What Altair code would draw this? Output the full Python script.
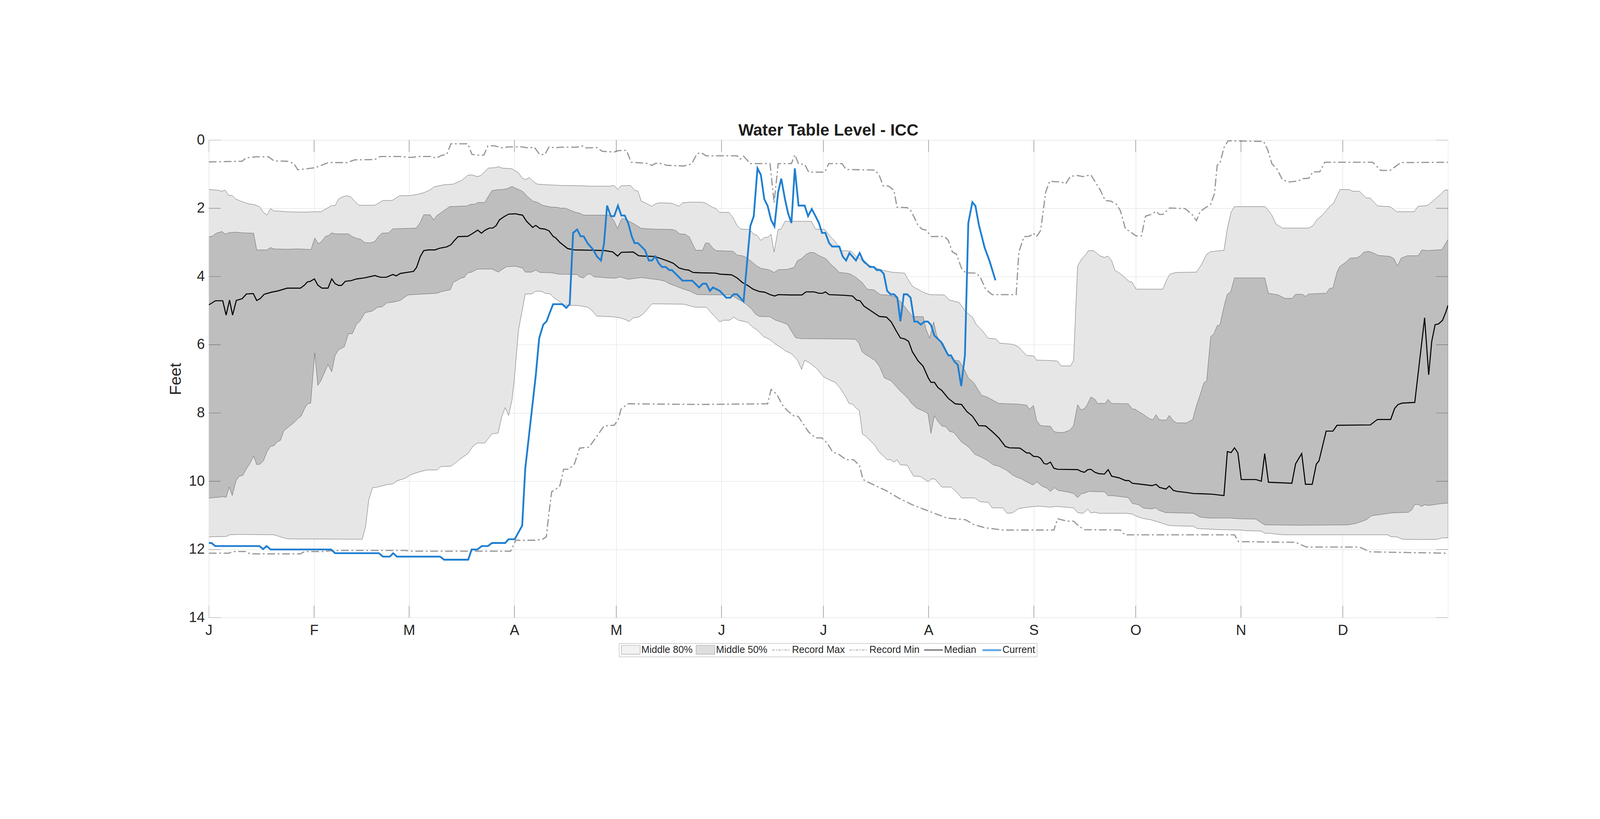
import altair as alt
import pandas as pd

FONT = "Liberation Sans"
TEXT = "#262626"
LIGHT_BAND = "#e6e6e6"
DARK_BAND = "#bebebe"
EDGE = "#5f5f5f"
RECORD = "#979797"
MEDIAN = "#000000"
CURRENT = "#1f7fd1"
DASH = [26, 9, 6, 9]

MONTH_STARTS = [0, 31, 59, 90, 120, 151, 181, 212, 243, 273, 304, 334]
MONTH_LABELS = ["J", "F", "M", "A", "M", "J", "J", "A", "S", "O", "N", "D"]
YEAR_END = 365
FEET_TICKS = [0, 2, 4, 6, 8, 10, 12, 14]

LEGEND_NAMES = ["Middle 80%", "Middle 50%", "Record Max", "Record Min", "Median", "Current"]

# upper edge of the middle 80% band (10th percentile depth)
P10_DAY = [0, 2.7, 3.7, 4.8, 5.9, 6.8, 8, 9.4, 11.7, 13.3, 14.9, 16, 17.1, 18.2, 19.2, 20.7, 22.7, 26.6, 29, 31.3,
           33, 34.8, 36.2, 37.2, 38.2, 39.3, 40.6, 41.9, 42.9, 44.2, 48.9, 51.3, 54, 56.2, 59.1, 61.5, 63.4, 65,
           66.4, 69.3, 72, 74.5, 76.3, 77.5, 79.1, 80.1, 81.3, 82.4, 84.2, 85.4, 86.3, 89.3, 91.2, 92.4, 93.3, 94.4,
           95.4, 96.7, 99.5, 104.1, 110.4, 111.6, 118.2, 119.4, 120.4, 121.4, 124.2, 125.4, 126.4, 127.4, 128.5,
           130.5, 131.7, 132.8, 136.4, 138.5, 139.5, 141.5, 145.4, 146.5, 148.5, 149.3, 150.5, 153.2, 154.4, 155.6,
           156.7, 159.3, 160.4, 161.4, 162.6, 163.8, 164.6, 165.6, 166.5, 167.7, 168.5, 169.7, 177.5, 178.7, 181.4,
           183, 184.1, 185.3, 186.1, 187.3, 189.2, 190, 190.8, 192, 193, 193.9, 196.1, 198.2, 200.2, 201, 204.9,
           206.1, 207.2, 208, 210.4, 212.3, 216.6, 218.2, 221, 222.9, 224.9, 226, 227.6, 229.6, 231.9, 232.9, 237,
           238.6, 240.8, 243, 243.8, 247.7, 250, 251, 253.8, 254.7, 255.9, 257.1, 258, 259.1, 260.6, 262.4, 263.8,
           264.8, 265.9, 266.9, 268.1, 269.6, 271, 272, 273.1, 281, 282.2, 283.1, 284.9, 290.9, 292.3, 293.9, 295.1,
           299, 300, 301.1, 302.1, 311.1, 312.3, 313.1, 314.3, 316.2, 324, 325.2, 326.4, 328, 330.3, 331.3, 332.3,
           333.2, 335.8, 337, 338.9, 340.9, 342.1, 344.2, 347.9, 349.9, 355, 356.2, 358.9, 360.5, 362.8, 364, 365]
P10_FT = [1.45, 1.47, 1.50, 1.47, 1.63, 1.62, 1.73, 1.79, 1.87, 1.89, 1.95, 2.11, 2.20, 2.01, 2.08, 2.08, 2.10, 2.11,
          2.11, 2.10, 2.10, 2.00, 1.92, 1.92, 1.73, 1.67, 1.63, 1.67, 1.79, 1.91, 1.91, 1.77, 1.77, 1.63, 1.63, 1.59,
          1.54, 1.47, 1.37, 1.31, 1.29, 1.18, 1.03, 1.02, 1.07, 1.04, 0.92, 0.82, 0.81, 0.78, 0.82, 0.84, 0.96, 1.12,
          1.16, 1.10, 1.20, 1.29, 1.31, 1.33, 1.34, 1.35, 1.35, 1.33, 1.45, 1.34, 1.33, 1.47, 1.50, 1.79, 1.84, 1.94,
          1.86, 1.84, 1.85, 1.94, 1.84, 1.82, 1.82, 1.86, 1.98, 2.00, 2.12, 2.12, 2.27, 2.51, 2.61, 2.62, 2.75, 2.79,
          2.94, 2.85, 2.85, 2.76, 3.28, 2.62, 2.61, 2.38, 2.38, 2.61, 2.62, 2.82, 2.93, 3.09, 3.25, 3.24, 3.26, 3.34,
          3.43, 3.48, 3.61, 3.65, 3.73, 3.81, 3.85, 3.87, 3.90, 4.11, 4.28, 4.33, 4.46, 4.53, 4.54, 4.69, 4.76, 5.03,
          5.19, 5.40, 5.56, 5.81, 5.83, 5.95, 5.99, 6.07, 6.31, 6.33, 6.45, 6.46, 6.48, 6.62, 6.62, 6.46, 3.69, 3.48,
          3.39, 3.24, 3.24, 3.39, 3.44, 3.40, 3.53, 3.82, 3.89, 4.01, 4.14, 4.17, 4.37, 4.37, 4.08, 3.93, 3.88, 3.87,
          3.66, 3.35, 3.27, 3.23, 2.59, 2.11, 1.95, 1.95, 2.09, 2.20, 2.46, 2.58, 2.58, 2.51, 2.33, 2.20, 1.93, 1.85,
          1.63, 1.45, 1.45, 1.50, 1.50, 1.70, 1.70, 1.93, 1.95, 2.10, 2.10, 1.94, 1.92, 1.79, 1.59, 1.47, 1.46]

# lower edge of the middle 80% band (90th percentile depth)
P90_DAY = [0, 5.1, 6.1, 8.6, 19.2, 21.1, 23.1, 45.2, 46.2, 47.1, 48.2, 49.3, 50.9, 52.9, 54.2, 55.4, 57.9, 59.4,
           61.5, 64.2, 67.2, 68.3, 71.3, 72.4, 74, 76.3, 77.9, 79.1, 81.3, 83.4, 85.2, 86.3, 87.3, 88.3, 89.3, 90,
           91.2, 93.2, 95.1, 96.3, 98, 99, 100.6, 101.6, 102.9, 104.5, 108.8, 111.6, 112.8, 114.3, 119, 121.1, 122.7,
           123.8, 125, 126.6, 128.1, 130.5, 139.9, 142.2, 143.4, 146.6, 147.7, 150.5, 151.5, 153.4, 154.6, 156,
           158.7, 160.3, 161.7, 163.4, 165, 166.5, 168.5, 169.7, 171.6, 173.4, 174.6, 175.5, 177.1, 179.1, 181, 183,
           184.5, 186.1, 187.3, 188.6, 189.6, 190.6, 191.6, 192.5, 193.5, 195.1, 196.3, 197.4, 198.6, 199.8, 200.8,
           201.8, 202.7, 203.7, 205.7, 207.6, 209.6, 211.8, 212.9, 213.9, 215.9, 218.6, 220.2, 221.7, 225.6, 227.2,
           229.6, 230.7, 233.9, 235.1, 236.6, 238.6, 241.3, 244.2, 247.7, 249.7, 254.7, 255.9, 257.5, 258.9, 259.8,
           260.9, 262.2, 270, 272, 273.1, 275.1, 277.5, 279.8, 282.9, 286.1, 290, 291.2, 293.9, 297.8, 304.1, 305.3,
           310, 311.1, 311.9, 313.5, 316.2, 347.2, 348.3, 349.9, 351.5, 357.3, 362, 363.2, 365]
P90_FT = [11.63, 11.62, 11.57, 11.56, 11.57, 11.63, 11.69, 11.70, 11.31, 10.55, 10.19, 10.18, 10.14, 10.09, 10.08,
          9.99, 9.91, 9.81, 9.74, 9.67, 9.67, 9.57, 9.56, 9.48, 9.35, 9.19, 8.96, 8.88, 8.88, 8.61, 8.59, 8.10, 7.84,
          8.07, 7.62, 7.00, 5.58, 4.51, 4.51, 4.43, 4.43, 4.49, 4.51, 4.62, 4.70, 4.84, 4.85, 4.90, 4.99, 5.16, 5.18,
          5.21, 5.26, 5.32, 5.21, 5.19, 5.08, 4.80, 4.81, 4.87, 4.90, 4.90, 5.03, 5.33, 5.28, 5.28, 5.19, 5.28, 5.34,
          5.49, 5.58, 5.76, 5.83, 5.95, 6.08, 6.17, 6.26, 6.45, 6.72, 6.45, 6.54, 6.70, 6.93, 7.04, 7.10, 7.29, 7.48,
          7.72, 7.74, 7.85, 7.93, 8.61, 8.68, 8.84, 8.96, 9.14, 9.25, 9.37, 9.37, 9.44, 9.37, 9.52, 9.53, 9.85, 9.86,
          10.01, 9.93, 9.94, 10.17, 10.17, 10.31, 10.49, 10.49, 10.60, 10.62, 10.78, 10.78, 10.94, 10.93, 10.80,
          10.76, 10.73, 10.76, 10.74, 10.78, 10.92, 10.94, 10.82, 10.93, 10.91, 10.94, 10.94, 10.96, 11.02, 11.09,
          11.13, 11.20, 11.30, 11.31, 11.32, 11.39, 11.40, 11.42, 11.43, 11.45, 11.46, 11.53, 11.52, 11.54, 11.57,
          11.57, 11.63, 11.63, 11.70, 11.71, 11.70, 11.66, 11.66]

# upper edge of the middle 50% band (25th percentile depth)
P25_DAY = [0, 1, 2.2, 3.9, 4.8, 6.3, 7.8, 10.2, 13.2, 14.1, 17.1, 18.2, 19.2, 22.7, 26.6, 30.1, 31.2, 32.3, 33.3,
           34.4, 35.2, 36.2, 37.2, 41.1, 42.3, 43.5, 44.6, 46, 47.8, 48.9, 50, 51, 52.9, 54.2, 61.1, 62.3, 63.3, 65.2,
           66.2, 67.2, 68.9, 70.9, 73.6, 76.1, 77.1, 78.3, 79.3, 81.3, 82.2, 83.4, 85.4, 86.1, 87.7, 89.3, 90.4, 92.4,
           93.9, 95.5, 96.7, 98.3, 100.6, 102.6, 103.8, 104.9, 106.1, 108.1, 109.2, 110.4, 118.2, 119.4, 120.4, 121.4,
           121.9, 125, 127.4, 131.3, 136.4, 137.5, 138.7, 140.3, 141.5, 143.4, 145.4, 146.3, 147.3, 148.4, 149.4,
           154.4, 155.6, 157.1, 158.3, 159.5, 161.4, 162.6, 165, 166.5, 167.7, 170.4, 172.4, 173.4, 174.5, 175.9,
           177.1, 178.3, 179.4, 181.8, 183.4, 184.5, 185.7, 187.7, 188.8, 190.4, 192.4, 193.1, 193.9, 195.9, 197.8,
           199.8, 201.8, 203.7, 205.3, 207.2, 210.4, 211.2, 212.3, 213.5, 214.3, 215.1, 216.2, 218.2, 219.6, 221,
           222.5, 223.7, 225.3, 226.4, 227.6, 229.2, 230.3, 232.7, 238.6, 240.9, 241.7, 242.9, 243.8, 245, 247.9,
           248.9, 250, 251.8, 253.6, 254.7, 255.9, 256.9, 257.9, 258.7, 259.8, 261, 261.8, 264, 264.9, 265.9, 270.8,
           272, 272.9, 273.9, 275.1, 277.1, 278.1, 279, 280, 282, 282.9, 284.1, 285.1, 288, 289.8, 290.9, 291.9,
           293.1, 293.9, 295.1, 296.1, 297, 297.8, 299.2, 300, 301, 302.1, 311, 312.1, 315, 317, 319, 320.1, 322.1,
           323, 324, 329.1, 330.1, 331.1, 332.3, 333.1, 334.6, 336.2, 338.1, 339.2, 340.1, 341.5, 342.8, 344.4, 347.9,
           349.1, 350.1, 351.2, 353, 356.2, 357.3, 358.9, 363.2, 365]
P25_FT = [2.83, 2.82, 2.73, 2.68, 2.75, 2.71, 2.70, 2.72, 2.73, 3.22, 3.22, 3.15, 3.19, 3.20, 3.19, 3.21, 2.87, 3.04,
          2.96, 2.82, 2.80, 2.72, 2.75, 2.75, 2.83, 2.88, 2.90, 3.01, 3.01, 2.97, 2.82, 2.73, 2.72, 2.60, 2.58, 2.41,
          2.19, 2.19, 2.34, 2.21, 2.09, 1.95, 1.94, 1.93, 1.88, 1.88, 1.83, 1.83, 1.67, 1.48, 1.45, 1.45, 1.43, 1.36,
          1.41, 1.50, 1.66, 1.79, 1.82, 1.91, 1.96, 1.97, 2.00, 1.99, 2.04, 2.12, 2.14, 2.20, 2.20, 2.38, 2.59, 2.34,
          2.29, 2.44, 2.59, 2.61, 2.62, 2.65, 2.75, 2.76, 2.84, 3.23, 3.23, 3.02, 3.02, 3.16, 3.24, 3.26, 3.37, 3.39,
          3.44, 3.53, 3.69, 3.76, 3.80, 3.88, 3.80, 3.79, 3.73, 3.53, 3.48, 3.35, 3.29, 3.30, 3.37, 3.48, 3.66, 3.75,
          3.88, 3.90, 3.92, 4.01, 4.17, 4.26, 4.37, 4.39, 4.53, 4.54, 4.58, 4.73, 4.92, 5.17, 5.18, 5.53, 5.81, 5.33,
          5.69, 5.88, 5.95, 6.36, 6.45, 6.47, 6.72, 6.97, 7.11, 7.29, 7.48, 7.53, 7.59, 7.72, 7.74, 7.77, 7.89, 7.78,
          8.22, 8.37, 8.39, 8.54, 8.57, 8.57, 8.50, 8.37, 7.76, 7.91, 7.87, 7.76, 7.53, 7.60, 7.72, 7.72, 7.60, 7.72,
          7.73, 7.88, 7.89, 7.96, 8.03, 8.17, 8.20, 8.05, 8.20, 8.21, 8.07, 8.23, 8.29, 8.29, 8.19, 7.78, 7.49, 7.11,
          7.06, 5.76, 5.67, 5.44, 5.42, 4.80, 4.52, 4.44, 4.04, 4.04, 4.49, 4.54, 4.64, 4.64, 4.52, 4.52, 4.58, 4.51,
          4.49, 4.35, 4.33, 3.87, 3.71, 3.60, 3.46, 3.45, 3.39, 3.29, 3.26, 3.30, 3.38, 3.41, 3.48, 3.69, 3.46, 3.39,
          3.39, 3.22, 3.24, 3.21, 2.91]

# lower edge of the middle 50% band (75th percentile depth)
P75_DAY = [0, 1.2, 3.1, 4.1, 5.1, 6, 6.9, 8, 9, 10, 11, 12.1, 13.2, 14.1, 15.1, 16.1, 17.2, 18.2, 19.2, 20, 21.1,
           22.1, 23.1, 25.1, 26.2, 27.2, 28.2, 29.1, 30, 31.2, 32.1, 33, 35.1, 36.2, 37.2, 38.2, 39.9, 41.1, 42.3,
           43.5, 44.5, 46, 48.2, 49.7, 51, 52.5, 54.4, 56.4, 57.5, 58.7, 61.9, 67.3, 68.5, 71.1, 72, 73.2, 74.4,
           75.2, 76.3, 77.5, 78.7, 79.5, 83.4, 84.6, 85.4, 86.1, 87.7, 90.4, 92.4, 93.2, 95.1, 96.3, 97.5, 101, 103,
           108.4, 109.2, 110.4, 111.6, 112.4, 113.5, 115.1, 117.5, 119.8, 121, 123.5, 125.8, 127.4, 130.5, 132.8,
           134.4, 135.6, 137.5, 139.9, 141.5, 143.8, 153.6, 154.8, 155.9, 157.5, 158.7, 159.9, 161, 162.2, 165.3,
           166.9, 168.5, 170.4, 171.6, 172.8, 174.4, 186.9, 190.4, 191.4, 192.4, 193.5, 194.7, 196.3, 197.5, 199,
           201, 202.5, 203.7, 204.7, 206.1, 206.9, 208.4, 210.4, 211.8, 212.7, 213.7, 214.7, 215.9, 217, 218.2,
           219.4, 220.5, 221.7, 223.3, 224.1, 225.6, 226.8, 229, 231.1, 232.7, 235, 236.6, 237.9, 239.3, 240.9,
           242.7, 243.9, 245.3, 246.8, 247.9, 249.1, 250.2, 253.2, 254.7, 255.9, 257.1, 258, 259.1, 263.8, 264.9,
           265.9, 270.8, 272, 273.9, 275.1, 276.3, 277.8, 278.9, 279.8, 281.8, 290, 291.9, 294.7, 301, 303.3, 308.4,
           310, 311.1, 321.3, 335.4, 337.8, 339.3, 340.9, 342.5, 344.8, 348.3, 353.4, 354.4, 355.1, 356.2, 357.2,
           358.1, 359.3, 362.8, 365]
P75_FT = [10.50, 10.48, 10.47, 10.45, 10.47, 10.17, 10.42, 9.99, 9.85, 9.83, 9.65, 9.48, 9.26, 9.51, 9.50, 9.40,
          9.12, 8.98, 8.96, 8.86, 8.80, 8.52, 8.44, 8.28, 8.17, 8.09, 7.87, 7.73, 7.71, 6.24, 7.19, 7.06, 6.58, 6.79,
          6.31, 6.15, 6.06, 5.68, 5.67, 5.40, 5.31, 5.06, 5.01, 4.90, 4.89, 4.77, 4.75, 4.70, 4.62, 4.54, 4.52, 4.49,
          4.44, 4.39, 4.17, 4.11, 4.04, 4.03, 3.89, 3.87, 3.80, 3.78, 3.78, 3.84, 3.87, 3.81, 3.71, 3.70, 3.75, 3.87,
          3.87, 3.81, 3.88, 3.89, 3.93, 3.94, 4.01, 4.04, 3.93, 3.93, 4.01, 4.02, 4.04, 4.05, 4.01, 4.08, 4.05, 4.03,
          4.07, 4.10, 4.14, 4.21, 4.28, 4.37, 4.42, 4.53, 4.54, 4.60, 4.67, 4.75, 4.85, 4.96, 5.10, 5.17, 5.18, 5.28,
          5.33, 5.40, 5.60, 5.79, 5.82, 5.83, 5.84, 5.94, 6.20, 6.29, 6.36, 6.47, 6.63, 6.97, 7.06, 7.23, 7.36, 7.45,
          7.59, 7.71, 7.85, 7.94, 8.01, 8.60, 8.08, 8.24, 8.38, 8.40, 8.54, 8.57, 8.70, 8.85, 8.96, 9.03, 9.21, 9.26,
          9.37, 9.52, 9.56, 9.68, 9.81, 9.88, 9.93, 10.02, 10.11, 10.02, 10.14, 10.20, 10.30, 10.19, 10.27, 10.32,
          10.36, 10.48, 10.36, 10.35, 10.30, 10.31, 10.43, 10.42, 10.48, 10.65, 10.69, 10.78, 10.80, 10.81, 10.78,
          10.85, 10.92, 10.94, 11.05, 11.08, 11.08, 11.10, 11.11, 11.22, 11.28, 11.29, 11.28, 11.24, 11.19, 11.13,
          11.01, 10.98, 10.93, 10.91, 10.83, 10.69, 10.68, 10.74, 10.69, 10.71, 10.66, 10.64]

RMAX_DAY = [0, 9.8, 11, 14, 17.6, 19.2, 23, 25, 26.2, 29, 31.3, 35.2, 40.7, 43, 48.9, 50.5, 56.4, 59.5, 61.9, 65.4,
            67, 68.5, 70.1, 71.3, 76.3, 77.5, 79.1, 81, 82.2, 84.2, 86.5, 88.1, 92.4, 94, 95.9, 97.5, 99, 100.2,
            102.2, 103.4, 108.4, 110, 111.2, 114.3, 115.9, 119.4, 120.6, 123, 124.4, 128.9, 130.5, 131.7, 133.6,
            134.8, 139.9, 142.2, 143.8, 145, 146.5, 155.6, 156.5, 157.5, 159.5, 165.3, 166.5, 167.7, 171.6, 172.6,
            173.7, 175.5, 176.7, 181.4, 182.6, 186.5, 187.7, 196.3, 197.5, 198.6, 200.2, 201.8, 202.7, 205.7, 206.8,
            208.8, 210, 211.2, 212.9, 216.6, 217.8, 219, 220.2, 221.7, 222.9, 226, 227.2, 228.8, 230.7, 237.8, 238.6,
            240.1, 241.7, 242.9, 243.8, 245, 246.5, 247.7, 248.9, 250.8, 252.4, 253.8, 255.9, 257.5, 259.8, 262.6,
            264, 265.7, 267.3, 268.5, 270, 271.2, 273.1, 274.7, 275.9, 277.5, 279, 280, 281, 283, 287.6, 289.6,
            290.9, 292, 295.1, 296.2, 297, 297.8, 299, 300.2, 310.7, 311.9, 313.1, 314.7, 316.2, 318, 320.9, 322.1,
            324, 325.2, 327.2, 328.7, 342.8, 345.2, 347.9, 351.1, 365]
RMAX_FT = [0.64, 0.62, 0.52, 0.49, 0.49, 0.61, 0.62, 0.68, 0.87, 0.84, 0.81, 0.66, 0.66, 0.58, 0.57, 0.48, 0.48,
           0.51, 0.48, 0.48, 0.53, 0.45, 0.42, 0.11, 0.11, 0.42, 0.44, 0.44, 0.17, 0.17, 0.23, 0.20, 0.20, 0.23, 0.21,
           0.43, 0.42, 0.20, 0.23, 0.21, 0.21, 0.17, 0.23, 0.22, 0.33, 0.35, 0.31, 0.30, 0.65, 0.68, 0.74, 0.68, 0.69,
           0.74, 0.76, 0.70, 0.40, 0.37, 0.46, 0.46, 0.56, 0.47, 0.69, 0.69, 1.84, 0.69, 0.69, 0.43, 0.70, 0.71, 0.94,
           0.94, 0.69, 0.69, 0.86, 0.88, 1.04, 1.34, 1.35, 1.47, 1.97, 1.98, 2.07, 2.48, 2.61, 2.64, 2.83, 2.82, 2.94,
           3.28, 3.34, 3.76, 3.89, 3.90, 4.01, 4.37, 4.53, 4.53, 3.28, 2.83, 2.82, 2.73, 2.83, 2.65, 1.52, 1.20, 1.22,
           1.22, 1.28, 1.06, 1.04, 1.07, 1.02, 1.47, 1.77, 1.79, 1.88, 2.07, 2.61, 2.67, 2.81, 2.81, 2.23, 2.18, 2.09,
           2.18, 2.18, 1.99, 2.01, 2.18, 2.36, 2.09, 1.88, 1.57, 0.74, 0.68, 0.22, 0.02, 0.04, 0.29, 0.69, 0.86, 1.16,
           1.23, 1.20, 1.13, 1.12, 0.93, 0.93, 0.65, 0.65, 0.89, 0.89, 0.66, 0.65]

RMIN_DAY = [0, 5.9, 7, 11, 12.1, 27, 28.2, 33.7, 36.8, 57.9, 59.5, 88.9, 90.4, 96.3, 98.3, 99.4, 100.2, 101, 101.8,
            103.4, 104.5, 106.1, 107.7, 109.2, 112, 114.3, 116.4, 119.4, 120.6, 121.4, 123.4, 144.6, 164.6, 165.6,
            167.3, 168.9, 170.4, 172.4, 173.6, 176.7, 178.7, 180.6, 182.2, 183.7, 185.7, 187.7, 189.9, 191.6, 192.7,
            196.3, 199.4, 203.3, 207.2, 211.9, 217.4, 222.9, 225.3, 228.4, 233.9, 248.9, 250, 252.8, 254.7, 256.3,
            257.9, 268.5, 269.8, 302.1, 303.3, 320.1, 323.3, 338.9, 342.1, 365]
RMIN_FT = [12.11, 12.11, 12.06, 12.06, 12.13, 12.13, 12.06, 12.06, 12.03, 12.03, 12.05, 12.05, 11.73, 11.73, 11.70,
           11.63, 10.92, 10.30, 10.27, 10.13, 9.65, 9.65, 9.49, 9.03, 9.00, 8.68, 8.38, 8.36, 8.19, 7.89, 7.73, 7.75,
           7.73, 7.31, 7.45, 7.76, 7.93, 8.09, 8.10, 8.56, 8.73, 8.73, 8.89, 9.14, 9.22, 9.37, 9.37, 9.53, 9.95, 10.13,
           10.27, 10.50, 10.69, 10.87, 11.08, 11.13, 11.27, 11.36, 11.43, 11.43, 11.10, 11.17, 11.17, 11.32, 11.42,
           11.43, 11.57, 11.57, 11.77, 11.79, 11.93, 11.93, 12.07, 12.11]

MEDIAN_DAY = [0, 1.95, 4.1, 5.1, 6.1, 7, 8.1, 9.8, 11.1, 13.1, 14.1, 15.1, 16.3, 18.4, 20.4, 23.1, 27, 28.2, 29,
              29.9, 31.1, 32.1, 33.3, 35.1, 36.2, 37.2, 38.2, 39.1, 40.2, 41.9, 43.5, 45.8, 48.9, 50.5, 52.3, 54.2,
              55.2, 56.4, 58.3, 60.3, 61.2, 62.3, 63.3, 64.6, 66.6, 68, 70.1, 71.3, 72.2, 73.4, 76.3, 77.5, 79.2, 80.3,
              81.4, 82.6, 83.6, 84.6, 85.6, 86.9, 88.3, 90.4, 91.2, 92.4, 93.6, 95.4, 96.3, 97.5, 99, 100.2, 101.4,
              102.2, 103.4, 105.7, 107.7, 113.5, 116.7, 119, 120.4, 121.5, 125, 126.6, 128.1, 131.3, 134.8, 136.8,
              138.5, 140.3, 141.3, 142.6, 144.6, 149.3, 150.5, 154, 155.6, 157.1, 158.7, 160.3, 162.2, 163.8, 165.3,
              166.7, 167.7, 171.2, 174.7, 175.9, 178.3, 179.7, 180.8, 181.6, 182.7, 187.3, 189.6, 190.8, 191.8, 193,
              195.1, 197.5, 199.6, 201, 202.5, 203.7, 205, 206.1, 207.2, 208.9, 210.4, 211.9, 212.7, 213.7, 214.8,
              215.9, 217.8, 219.8, 221.7, 223.3, 224.9, 226.8, 228.8, 230.7, 232.7, 234.6, 235.8, 238.9, 240.9, 241.7,
              242.9, 244.2, 245, 246, 246.8, 247.9, 248.9, 250, 255.9, 256.9, 257.9, 258.9, 259.8, 261, 262.2, 263.8,
              264.9, 265.9, 268.1, 270, 271, 272, 273.9, 277.8, 279, 280, 281.9, 282.9, 284.1, 285.3, 287.2, 290,
              293.1, 295.5, 299, 300, 301.1, 302.1, 303.1, 304.1, 308.4, 310, 311, 312.1, 319, 320.1, 321.9, 323, 325,
              326.2, 327, 329.1, 331.1, 332.3, 342.1, 344.2, 348.1, 349.3, 350.3, 351.5, 355.2, 358.1, 359.3, 360.2,
              361.2, 362.2, 363.4, 364.4, 365]
MEDIAN_FT = [4.83, 4.71, 4.71, 5.13, 4.69, 5.13, 4.70, 4.65, 4.51, 4.50, 4.70, 4.65, 4.52, 4.46, 4.42, 4.34, 4.34,
             4.25, 4.16, 4.14, 4.07, 4.25, 4.34, 4.34, 4.07, 4.21, 4.26, 4.26, 4.14, 4.12, 4.07, 4.04, 3.97, 4.02,
             4.02, 3.94, 3.98, 3.91, 3.88, 3.85, 3.73, 3.41, 3.24, 3.22, 3.22, 3.17, 3.13, 3.07, 2.96, 2.83, 2.82,
             2.75, 2.64, 2.73, 2.64, 2.58, 2.58, 2.51, 2.34, 2.25, 2.17, 2.16, 2.18, 2.20, 2.38, 2.56, 2.50, 2.59,
             2.61, 2.66, 2.82, 2.87, 3.00, 3.18, 3.22, 3.23, 3.24, 3.28, 3.40, 3.29, 3.28, 3.39, 3.40, 3.41, 3.53,
             3.61, 3.75, 3.80, 3.81, 3.88, 3.89, 3.90, 3.93, 3.95, 4.04, 4.17, 4.26, 4.37, 4.44, 4.46, 4.53, 4.57,
             4.53, 4.54, 4.54, 4.45, 4.45, 4.49, 4.49, 4.45, 4.53, 4.55, 4.57, 4.69, 4.71, 4.87, 5.01, 5.17, 5.19,
             5.33, 5.60, 5.80, 5.83, 5.90, 6.20, 6.47, 6.63, 6.97, 7.10, 7.10, 7.26, 7.34, 7.57, 7.73, 7.75, 7.96,
             8.09, 8.37, 8.38, 8.54, 8.73, 8.98, 9.02, 9.03, 9.17, 9.17, 9.27, 9.28, 9.33, 9.48, 9.50, 9.44, 9.62,
             9.65, 9.66, 9.71, 9.74, 9.66, 9.65, 9.74, 9.78, 9.79, 9.66, 9.85, 9.90, 9.98, 9.98, 10.06, 10.08, 10.13,
             10.09, 10.18, 10.23, 10.14, 10.27, 10.30, 10.32, 10.36, 10.37, 10.38, 10.42, 9.13, 9.16, 9.02, 9.17,
             9.95, 9.95, 10.00, 9.19, 10.03, 10.06, 9.49, 9.19, 10.09, 10.09, 9.50, 9.40, 8.53, 8.53, 8.36, 8.35,
             8.19, 8.19, 7.86, 7.75, 7.71, 7.69, 5.21, 6.88, 5.90, 5.41, 5.39, 5.28, 5.03, 4.84]

CURRENT_DAY = [0, 0.8, 1.9, 14.9, 16, 17, 18.2, 36, 37.2, 50.1, 51.3, 53.3, 54.3, 55.4, 68.1, 69.3, 76.4, 77.4, 79.1,
               80.4, 82.2, 83.4, 87.3, 88.3, 90.1, 92.3, 93.2, 96.3, 97.3, 98.5, 99.5, 100.2, 101.4, 104.1, 105.3,
               106.3, 107.3, 108.5, 109.5, 110.4, 111.6, 113.2, 114.3, 115.5, 116.4, 117.3, 118.4, 119.4, 120.5,
               121.5, 122.5, 123.5, 124.6, 125.4, 126.4, 128.5, 129.6, 130.5, 131.5, 132.5, 133.5, 134.6, 135.6,
               136.4, 139.5, 142.4, 144.4, 145.5, 146.5, 147.6, 148.5, 150.5, 152.4, 153.6, 154.6, 155.6, 157.5,
               159.5, 160.5, 161.6, 162.6, 163.6, 164.6, 165.6, 166.6, 167.7, 168.6, 169.7, 170.6, 171.6, 172.6,
               173.7, 175.5, 176.5, 177.6, 178.7, 179.7, 180.6, 181.6, 182.7, 183.6, 185.7, 186.7, 187.7, 188.7,
               190.6, 191.7, 192.7, 194.7, 195.9, 196.7, 197.8, 198.8, 199.8, 200.8, 201.8, 202.8, 203.7, 204.7,
               205.7, 206.7, 207.8, 208.7, 209.7, 210.8, 211.8, 212.7, 213.7, 215.7, 217.8, 218.6, 219.6, 220.6,
               221.6, 222.7, 223.7, 224.9, 225.8, 226.8, 228.5, 230, 231.7]
CURRENT_FT = [11.81, 11.81, 11.90, 11.90, 11.99, 11.90, 12.00, 12.00, 12.11, 12.11, 12.21, 12.21, 12.11, 12.21,
              12.21, 12.30, 12.30, 12.00, 12.00, 11.90, 11.90, 11.81, 11.81, 11.70, 11.70, 11.30, 9.63, 6.90, 5.81,
              5.41, 5.31, 5.12, 4.81, 4.81, 4.92, 4.81, 2.72, 2.62, 2.82, 2.82, 3.03, 3.21, 3.41, 3.53, 3.03, 1.92,
              2.23, 2.23, 1.92, 2.21, 2.21, 2.43, 2.83, 3.02, 3.02, 3.23, 3.53, 3.53, 3.41, 3.61, 3.72, 3.72, 3.81,
              3.81, 4.12, 4.12, 4.32, 4.21, 4.21, 4.42, 4.32, 4.42, 4.62, 4.62, 4.52, 4.52, 4.73, 2.52, 2.23, 0.83,
              1.02, 1.73, 1.93, 2.34, 2.53, 1.52, 1.13, 1.73, 2.14, 2.43, 0.83, 1.92, 1.92, 2.23, 2.02, 2.23, 2.43,
              2.72, 2.72, 3.02, 3.12, 3.12, 3.41, 3.53, 3.31, 3.53, 3.31, 3.53, 3.72, 3.72, 3.81, 3.81, 3.92, 4.42,
              4.52, 4.52, 4.62, 5.31, 4.52, 4.52, 4.62, 5.32, 5.32, 5.41, 5.32, 5.32, 5.42, 5.73, 5.92, 6.31, 6.31,
              6.49, 6.59, 7.21, 6.31, 2.43, 1.82, 1.93, 2.48, 3.15, 3.56, 4.11]


def line_frame(days, feet):
    return pd.DataFrame({"day": days, "ft": feet})


def band_frame(top_days, top_feet, bottom_days, bottom_feet):
    days = list(top_days) + list(reversed(bottom_days))
    feet = list(top_feet) + list(reversed(bottom_feet))
    return pd.DataFrame({"day": days, "ft": feet, "order": list(range(len(days)))})


label_expr = "{}[indexof({}, datum.value)]".format(
    "[" + ",".join("'" + m + "'" for m in MONTH_LABELS) + "]",
    "[" + ",".join(str(d) for d in MONTH_STARTS) + "]",
)

X_AXIS = alt.Axis(
    values=MONTH_STARTS, labelExpr=label_expr, title=None, grid=True, gridColor="#e8e8e8", gridWidth=2,
    domain=False, ticks=False, tickSize=0, labelFont=FONT, labelFontSize=48, labelColor=TEXT,
    labelPadding=20, labelFlush=False, labelOverlap=False,
)
Y_AXIS = alt.Axis(
    values=FEET_TICKS, title="Feet", grid=True, gridColor="#e8e8e8", gridWidth=2, domain=False, ticks=False,
    tickSize=0, labelFont=FONT, labelFontSize=48, labelColor=TEXT, labelPadding=14, format="d",
    titleFont=FONT, titleFontSize=54, titleFontWeight="normal", titleColor=TEXT, titlePadding=16,
)


def xenc():
    return alt.X("day:Q", scale=alt.Scale(domain=[0, YEAR_END], nice=False, zero=False), axis=X_AXIS)


def yenc():
    return alt.Y("ft:Q", scale=alt.Scale(domain=[FEET_TICKS[0], FEET_TICKS[-1]], reverse=True, nice=False,
                                         zero=False), axis=Y_AXIS)


def band(df, fill):
    return (
        alt.Chart(df)
        .mark_line(fill=fill, stroke=EDGE, strokeWidth=1.2, clip=True)
        .encode(x=xenc(), y=yenc(), order=alt.Order("order:Q"))
    )


def series(df, color, width, dash=None):
    kwargs = {"color": color, "strokeWidth": width, "clip": True}
    if dash:
        kwargs["strokeDash"] = dash
    return alt.Chart(df).mark_line(**kwargs).encode(x=xenc(), y=yenc())


band80 = band(band_frame(P10_DAY, P10_FT, P90_DAY, P90_FT), LIGHT_BAND)
band50 = band(band_frame(P25_DAY, P25_FT, P75_DAY, P75_FT), DARK_BAND)
rmax = series(line_frame(RMAX_DAY, RMAX_FT), RECORD, 4, DASH)
rmin = series(line_frame(RMIN_DAY, RMIN_FT), RECORD, 4, DASH)
median = series(line_frame(MEDIAN_DAY, MEDIAN_FT), MEDIAN, 3.5)
current = series(line_frame(CURRENT_DAY, CURRENT_FT), CURRENT, 6)

# inward tick marks on all four sides of the box
x_ticks_df = pd.DataFrame({
    "day": MONTH_STARTS * 2,
    "ft": [FEET_TICKS[-1]] * len(MONTH_STARTS) + [FEET_TICKS[0]] * len(MONTH_STARTS),
})
y_ticks_df = pd.DataFrame({
    "day": [0] * len(FEET_TICKS) + [YEAR_END] * len(FEET_TICKS),
    "ft": FEET_TICKS * 2,
})
x_ticks = alt.Chart(x_ticks_df).mark_tick(orient="vertical", size=80, thickness=1.5, color="#4d4d4d",
                                          clip=True).encode(x=xenc(), y=yenc())
y_ticks = alt.Chart(y_ticks_df).mark_tick(orient="horizontal", size=80, thickness=1.5, color="#4d4d4d",
                                          clip=True).encode(x=xenc(), y=yenc())

# legend comes from an invisible layer whose rows have no position
RECT_PATH = "M-1,-1H3.2V1H-1Z"
LINE_PATH = "M-1,0H3.2"
legend_df = pd.DataFrame({"series": LEGEND_NAMES, "day": [None] * 6, "ft": [None] * 6})
leg = alt.Legend(
    title=None, orient="none", legendX=1378, legendY=1690, direction="horizontal", columns=6,
    symbolSize=900, labelFont=FONT, labelFontSize=33, labelColor=TEXT, labelOffset=34, columnPadding=8,
    padding=5, strokeColor="#8c8c8c", fillColor="white", labelLimit=0,
)
legend_layer = alt.Chart(legend_df).mark_point(clip=True).encode(
    x=xenc(),
    y=yenc(),
    fill=alt.Fill("series:N", legend=leg, scale=alt.Scale(
        domain=LEGEND_NAMES, range=[LIGHT_BAND, DARK_BAND, "transparent", "transparent", "transparent", "transparent"])),
    stroke=alt.Stroke("series:N", legend=leg, scale=alt.Scale(
        domain=LEGEND_NAMES, range=["#808080", "#808080", RECORD, RECORD, MEDIAN, CURRENT])),
    shape=alt.Shape("series:N", legend=leg, scale=alt.Scale(
        domain=LEGEND_NAMES, range=[RECT_PATH, RECT_PATH, LINE_PATH, LINE_PATH, LINE_PATH, LINE_PATH])),
    strokeDash=alt.StrokeDash("series:N", legend=leg, scale=alt.Scale(
        domain=LEGEND_NAMES, range=[[1, 0], [1, 0], [9, 4, 4, 4], [9, 4, 4, 4], [1, 0], [1, 0]])),
    strokeWidth=alt.StrokeWidth("series:N", legend=leg, scale=alt.Scale(
        type="ordinal", domain=LEGEND_NAMES, range=[1.5, 1.5, 3.5, 3.5, 3.5, 6])),
)

chart = (
    alt.layer(band80, band50, rmax, rmin, median, current, x_ticks, y_ticks, legend_layer)
    .properties(
        width=4163,
        height=1604,
        padding={"left": 691, "top": 138, "right": 500, "bottom": 320},
        autosize=alt.AutoSizeParams(type="none"),
        title=alt.TitleParams(
            "Water Table Level - ICC", font=FONT, fontSize=55, fontWeight="bold", color="#1f1f1f",
            anchor="middle", offset=18, dy=82, baseline="alphabetic", frame="group",
        ),
    )
    .configure_view(stroke="#8c8c8c", strokeWidth=2)
    .configure(background="white")
)

chart.save("out.html", embed_options={"renderer": "svg", "actions": False})
